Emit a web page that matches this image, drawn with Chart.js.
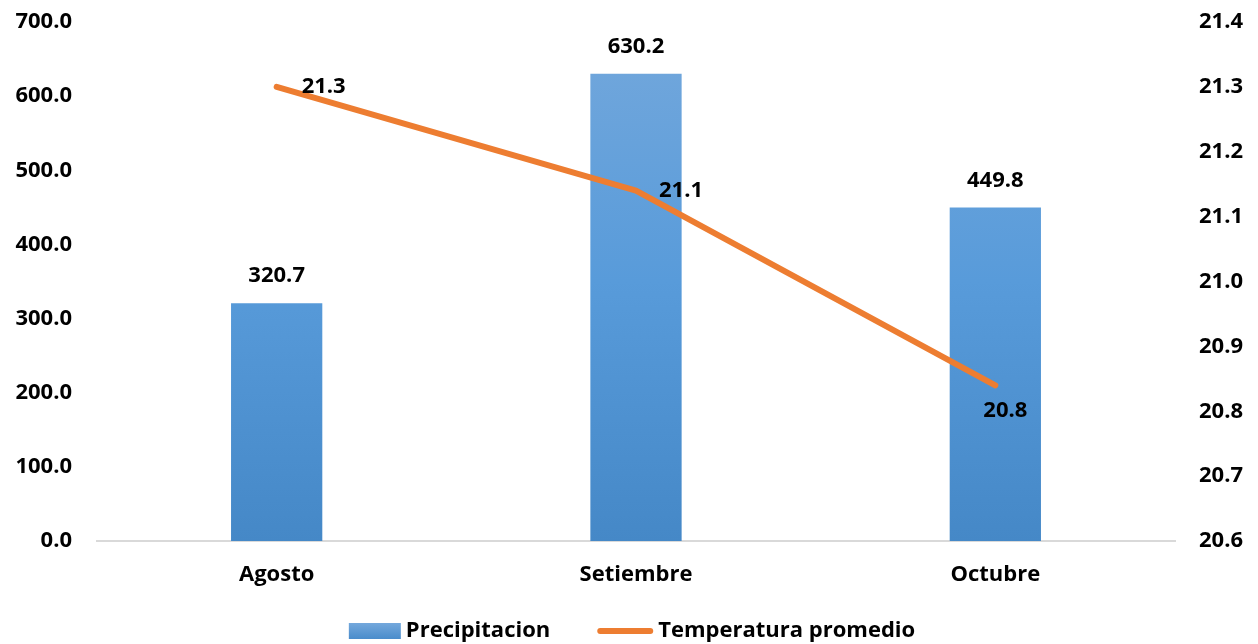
<!DOCTYPE html>
<html>
<head>
<meta charset="utf-8">
<script src="https://cdn.jsdelivr.net/npm/chart.js@4/dist/chart.umd.min.js"></script>
<style>
  html, body { margin: 0; padding: 0; background: #fff; }
  #wrap { width: 1258px; height: 644px; }
</style>
</head>
<body>
<div id="wrap"><canvas id="climaChart"></canvas></div>
<script>
const months = ['Agosto', 'Setiembre', 'Octubre'];
const precipitacion = [320.7, 630.2, 449.8];
const temperatura = [21.3, 21.14, 20.84];

const FONT = '"Open Sans", sans-serif';
const BLUE = '#5B9BD5';
const ORANGE = '#ED7D31';

// where each line label sits relative to its point (Excel-style manual placement)
const lineLabelOffsets = [[47, 0], [45, 0], [10, 25]];

const valueLabels = {
    id: 'valueLabels',
    afterDatasetsDraw(chart) {
        const ctx = chart.ctx;
        ctx.save();
        ctx.font = 'bold 22px ' + FONT;
        ctx.fillStyle = '#000';
        ctx.textAlign = 'center';
        ctx.textBaseline = 'middle';
        chart.getDatasetMeta(0).data.forEach((bar, i) => {
            ctx.fillText(precipitacion[i].toFixed(1), bar.x, bar.y - 27);
        });
        chart.getDatasetMeta(1).data.forEach((pt, i) => {
            const off = lineLabelOffsets[i];
            ctx.fillText(temperatura[i].toFixed(1), pt.x + off[0], pt.y + off[1]);
        });
        ctx.restore();
    }
};

// Excel-like legend: swatch tight against the text, wide gap between entries
const excelLegend = {
    id: 'excelLegend',
    afterDraw(chart) {
        const ctx = chart.ctx;
        const y = 631;
        const items = chart.data.datasets.map(ds => ({
            label: ds.label,
            kind: ds.type,
            swatch: ds.type === 'bar' ? 52 : 56
        }));
        ctx.save();
        ctx.font = 'bold 22px ' + FONT;
        ctx.textBaseline = 'middle';
        ctx.textAlign = 'left';
        const gapText = 5, gapItem = 47;
        let total = 0;
        items.forEach((it, i) => {
            it.tw = ctx.measureText(it.label).width;
            total += it.swatch + gapText + it.tw + (i ? gapItem : 0);
        });
        let x = chart.width / 2 - total / 2 + 3;
        items.forEach((it, i) => {
            if (i) x += gapItem;
            if (it.kind === 'bar') {
                const g = ctx.createLinearGradient(0, y - 8, 0, y + 8);
                g.addColorStop(0, '#74A8DC');
                g.addColorStop(1, '#4A8CCB');
                ctx.fillStyle = g;
                ctx.fillRect(x, y - 8, it.swatch, 16);
            } else {
                ctx.strokeStyle = ORANGE;
                ctx.lineWidth = 6;
                ctx.lineCap = 'round';
                ctx.beginPath();
                ctx.moveTo(x + 3, y);
                ctx.lineTo(x + it.swatch - 3, y);
                ctx.stroke();
            }
            x += it.swatch + gapText;
            ctx.fillStyle = '#000';
            ctx.fillText(it.label, x, y);
            x += it.tw;
        });
        ctx.restore();
    }
};

function barGradient(context) {
    const area = context.chart.chartArea;
    if (!area) return BLUE;
    const g = context.chart.ctx.createLinearGradient(0, area.top, 0, area.bottom);
    g.addColorStop(0, '#74A8DC');
    g.addColorStop(0.5, '#589BDA');
    g.addColorStop(1, '#4588C7');
    return g;
}

const ctx = document.getElementById('climaChart').getContext('2d');

const climaChart = new Chart(ctx, {
    data: {
        labels: months,
        datasets: [
            {
                type: 'bar',
                label: 'Precipitacion',
                data: precipitacion,
                yAxisID: 'y',
                backgroundColor: barGradient,
                categoryPercentage: 1.0,
                barPercentage: 0.254,
                order: 1
            },
            {
                type: 'line',
                label: 'Temperatura promedio',
                data: temperatura,
                yAxisID: 'y1',
                borderColor: ORANGE,
                backgroundColor: ORANGE,
                borderWidth: 6,
                borderCapStyle: 'round',
                borderJoinStyle: 'round',
                pointRadius: 0,
                tension: 0,
                order: 0
            }
        ]
    },
    options: {
        responsive: true,
        maintainAspectRatio: false,
        animation: false,
        layout: {
            padding: { top: 22, left: 0, right: 0, bottom: 0 }
        },
        plugins: {
            tooltip: { enabled: false },
            legend: { display: false }
        },
        scales: {
            x: {
                grid: { display: false, drawTicks: false },
                border: { display: true, color: '#D9D9D9', width: 2 },
                afterFit(scale) { scale.height = 103; },
                ticks: {
                    color: '#000',
                    padding: 21,
                    font: { family: FONT, size: 22, weight: 'bold' }
                }
            },
            y: {
                position: 'left',
                min: 0,
                max: 700,
                grid: { display: false, drawTicks: false },
                border: { display: false },
                afterFit(scale) {
                    scale.width = 97;
                    scale.paddingTop = 0;
                    scale.paddingBottom = 0;
                },
                ticks: {
                    stepSize: 100,
                    padding: 25,
                    color: '#000',
                    font: { family: FONT, size: 22, weight: 'bold' },
                    callback: v => v.toFixed(1)
                }
            },
            y1: {
                position: 'right',
                min: 20.6,
                max: 21.4,
                grid: { display: false, drawTicks: false },
                border: { display: false },
                afterFit(scale) {
                    scale.width = 83;
                    scale.paddingTop = 0;
                    scale.paddingBottom = 0;
                },
                ticks: {
                    stepSize: 0.1,
                    padding: 24,
                    color: '#000',
                    font: { family: FONT, size: 22, weight: 'bold' },
                    callback: v => v.toFixed(1)
                }
            }
        }
    },
    plugins: [valueLabels, excelLegend]
});
</script>
</body>
</html>
